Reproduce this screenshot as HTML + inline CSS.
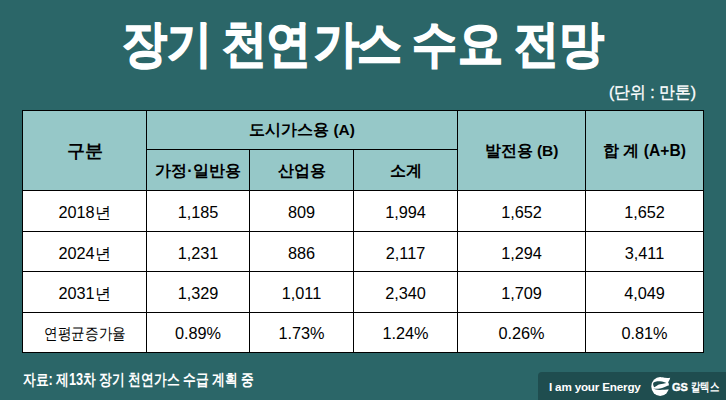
<!DOCTYPE html>
<html><head><meta charset="utf-8">
<style>
html,body{margin:0;padding:0;}
body{width:726px;height:400px;overflow:hidden;background:#2b6668;font-family:"Liberation Sans",sans-serif;position:relative;}
.g{position:absolute;color:#fff;font-weight:bold;font-size:50px;line-height:60px;transform:scaleX(0.9);transform-origin:0 0;white-space:nowrap;-webkit-text-stroke:1.4px #fff;}
.unit{position:absolute;color:#fff;font-size:17px;line-height:20px;white-space:nowrap;transform-origin:0 0;}
.h{position:absolute;background:#000;height:1px;}
.v{position:absolute;background:#000;width:1px;}
.fill{position:absolute;}
.t{position:absolute;text-align:center;font-size:16.3px;line-height:22px;color:#000;white-space:nowrap;}
.b{font-weight:bold;font-size:16px;}
.src{position:absolute;color:#fff;font-size:16px;line-height:20px;font-weight:bold;white-space:nowrap;transform-origin:0 0;}
.bar{position:absolute;left:538px;top:372px;width:200px;height:40px;background:#1f4d4f;border-radius:4px;}
.eng{position:absolute;color:#fff;font-weight:bold;font-size:11.7px;line-height:14px;white-space:nowrap;}
</style></head><body>
<div class="g" style="left:122.2px;top:14px">장</div>
<div class="g" style="left:166.9px;top:14px">기</div>
<div class="g" style="left:222.2px;top:14px">천</div>
<div class="g" style="left:266.0px;top:14px">연</div>
<div class="g" style="left:313.7px;top:14px">가</div>
<div class="g" style="left:356.9px;top:14px">스</div>
<div class="g" style="left:412.1px;top:14px">수</div>
<div class="g" style="left:457.6px;top:14px">요</div>
<div class="g" style="left:513.7px;top:14px">전</div>
<div class="g" style="left:558.5px;top:14px">망</div>
<div class="unit" style="left:609px;top:82.5px;-webkit-text-stroke:0.35px #fff;transform:scaleX(0.93)">(단위 : 만톤)</div>
<div class="fill" style="left:22px;top:110px;width:682px;height:81px;background:#96c8c8"></div>
<div class="fill" style="left:22px;top:190px;width:682px;height:163px;background:#fff"></div>
<div class="h" style="left:22px;top:110px;width:682px"></div>
<div class="h" style="left:22px;top:190px;width:682px"></div>
<div class="h" style="left:22px;top:231px;width:682px"></div>
<div class="h" style="left:22px;top:271px;width:682px"></div>
<div class="h" style="left:22px;top:312px;width:682px"></div>
<div class="h" style="left:22px;top:352px;width:682px"></div>
<div class="h" style="left:146px;top:149px;width:312px"></div>
<div class="v" style="left:22px;top:110px;height:243px"></div>
<div class="v" style="left:146px;top:110px;height:243px"></div>
<div class="v" style="left:249px;top:149px;height:204px"></div>
<div class="v" style="left:353px;top:149px;height:204px"></div>
<div class="v" style="left:457px;top:110px;height:243px"></div>
<div class="v" style="left:585px;top:110px;height:243px"></div>
<div class="v" style="left:703px;top:110px;height:243px"></div>
<div class="t b" style="left:23px;width:123px;top:140px;font-size:18px">구분</div>
<div class="t b" style="left:147px;width:310px;top:119px;font-size:15.5px">도시가스용 (A)</div>
<div class="t b" style="left:147px;width:102px;top:160px;">가정·일반용</div>
<div class="t b" style="left:250px;width:103px;top:160px;">산업용</div>
<div class="t b" style="left:354px;width:103px;top:160px;">소계</div>
<div class="t b" style="left:458px;width:127px;top:140px;font-size:15.5px">발전용 (B)</div>
<div class="t b" style="left:586px;width:117px;top:140px;font-size:15.6px">합 계 (A+B)</div>
<div class="t" style="left:23px;width:123px;top:201px;">2018년</div>
<div class="t" style="left:147px;width:102px;top:201px;">1,185</div>
<div class="t" style="left:250px;width:103px;top:201px;">809</div>
<div class="t" style="left:354px;width:103px;top:201px;">1,994</div>
<div class="t" style="left:458px;width:127px;top:201px;">1,652</div>
<div class="t" style="left:586px;width:117px;top:201px;">1,652</div>
<div class="t" style="left:23px;width:123px;top:242px;">2024년</div>
<div class="t" style="left:147px;width:102px;top:242px;">1,231</div>
<div class="t" style="left:250px;width:103px;top:242px;">886</div>
<div class="t" style="left:354px;width:103px;top:242px;">2,117</div>
<div class="t" style="left:458px;width:127px;top:242px;">1,294</div>
<div class="t" style="left:586px;width:117px;top:242px;">3,411</div>
<div class="t" style="left:23px;width:123px;top:282px;">2031년</div>
<div class="t" style="left:147px;width:102px;top:282px;">1,329</div>
<div class="t" style="left:250px;width:103px;top:282px;">1,011</div>
<div class="t" style="left:354px;width:103px;top:282px;">2,340</div>
<div class="t" style="left:458px;width:127px;top:282px;">1,709</div>
<div class="t" style="left:586px;width:117px;top:282px;">4,049</div>
<div class="t" style="left:23px;width:123px;top:322px;"><span style="display:inline-block;transform:scaleX(0.85)">연평균증가율</span></div>
<div class="t" style="left:147px;width:102px;top:322px;">0.89%</div>
<div class="t" style="left:250px;width:103px;top:322px;">1.73%</div>
<div class="t" style="left:354px;width:103px;top:322px;">1.24%</div>
<div class="t" style="left:458px;width:127px;top:322px;">0.26%</div>
<div class="t" style="left:586px;width:117px;top:322px;">0.81%</div>
<div class="src" style="left:23px;top:370px;transform:scaleX(0.796)">자료: 제13차 장기 천연가스 수급 계획 중</div>
<div class="bar"></div>
<div class="eng" style="left:549px;top:380px;letter-spacing:-0.2px">I am your Energy</div>
<svg style="position:absolute;left:648px;top:374px" width="24" height="24" viewBox="0 0 24 24">
<ellipse cx="12.2" cy="12.5" rx="8.9" ry="9.4" fill="#fff"/>
<path d="M14 3.6 C17.5 4 20.5 4.2 22.2 3.7 C21.4 6.8 20 9 17.5 10 Z" fill="#fff"/>
<path d="M5.2 9 C6 7.6 9 7.1 12 7.2 C15 7.4 17 8.2 18.3 8.9 C16 9.5 14 9.9 12 10.3 C9.5 10.9 8 12.4 6.4 13.3 C5.4 12.4 4.9 10.5 5.2 9 Z" fill="#1f4d4f"/>
<path d="M5.1 14.4 C8 15.2 10 14.6 12 14.4 C15 14 17.5 13 19.5 11.8 C20.2 11.5 20.8 11.3 21.3 11.2 L22.5 11.2 L22.5 15.3 C18 15.6 15 15.9 12 15.9 C9 15.9 6.5 15.3 5.1 14.6 Z" fill="#1f4d4f"/>
</svg>
<div class="eng" style="left:672px;top:379.5px;font-size:11px;-webkit-text-stroke:0.4px #fff">GS</div>
<div class="eng" style="left:690.5px;top:379.5px;font-size:11.5px;transform:scaleX(0.78);transform-origin:0 0">칼텍스</div>
</body></html>
